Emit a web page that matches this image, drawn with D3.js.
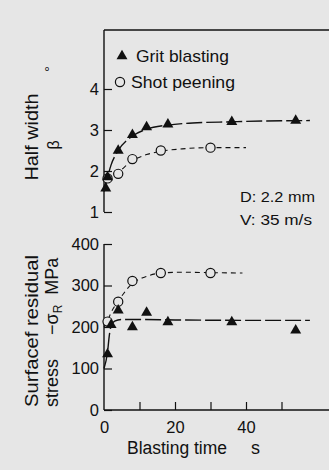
<!DOCTYPE html>
<html>
<head>
<meta charset="utf-8">
<script src="https://cdn.jsdelivr.net/npm/d3@7"></script>
<style>
  html, body { margin: 0; padding: 0; background: #e6e6e6; }
  svg { display: block; font-family: "Liberation Sans", Arial, sans-serif; }
</style>
</head>
<body>
<div id="chart"></div>
<script>
// measured points, blasting time in s
const gritTime = [0.5, 1, 4, 8, 12, 18, 36, 54];
const gritHalf = [1.58, 1.85, 2.5, 2.88, 3.07, 3.14, 3.2, 3.23];
const shotTime = [1, 4, 8, 16, 30];
const shotHalf = [1.82, 1.93, 2.29, 2.5, 2.57];

const gritStressTime = [1, 2, 4, 8, 12, 18, 36, 54];
const gritStress = [135, 205, 240, 200, 235, 212, 212, 192];
const shotStressTime = [1, 4, 8, 16, 30];
const shotStress = [213, 261, 311, 330, 330];

// fitted curves
const gritHalfFit = [[0, 1.5], [1, 1.85], [2, 2.15], [4, 2.5], [8, 2.85], [12, 3.02], [18, 3.12], [25, 3.17], [36, 3.2], [45, 3.22], [58, 3.23]];
const shotHalfFit = [[0, 1.6], [1, 1.8], [4, 1.97], [8, 2.25], [12, 2.4], [16, 2.48], [22, 2.54], [30, 2.57], [40, 2.57]];
const gritStressFit = [[0, 100], [1, 140], [1.5, 180], [2, 203], [3, 214], [5, 218], [10, 218], [20, 217], [40, 216], [58, 216]];
const shotStressFit = [[0, 200], [1, 215], [2, 235], [4, 262], [8, 305], [12, 322], [16, 330], [22, 332], [30, 331], [39, 330]];

const xTicks = [0, 10, 20, 30, 40, 50];
const xLabels = [0, 20, 40];
const halfTicks = [1, 2, 3, 4];
const stressTicks = [0, 100, 200, 300, 400];

const width = 329, height = 470;
const svg = d3.select('#chart').append('svg')
  .attr('width', width)
  .attr('height', height);

svg.append('rect').attr('width', width).attr('height', height).attr('fill', '#e6e6e6');

const x = d3.scaleLinear().domain([0, 60]).range([104, 317]);
const yTop = d3.scaleLinear().domain([1, 4]).range([212, 89]);
const yBot = d3.scaleLinear().domain([0, 400]).range([410, 244]);

// frame lines
svg.append('line').attr('x1', 104).attr('x2', 104).attr('y1', 30).attr('y2', yTop(1))
  .attr('stroke', '#111').attr('stroke-width', 1.4);
svg.append('line').attr('x1', 104).attr('x2', width).attr('y1', 30).attr('y2', 30)
  .attr('stroke', '#111').attr('stroke-width', 1.4);
svg.append('line').attr('x1', 104).attr('x2', 104).attr('y1', yBot(400)).attr('y2', yBot(0))
  .attr('stroke', '#111').attr('stroke-width', 1.4);
svg.append('line').attr('x1', 104).attr('x2', width).attr('y1', yBot(0)).attr('y2', yBot(0))
  .attr('stroke', '#111').attr('stroke-width', 1.4);

function styleAxis(g) {
  g.select('.domain').remove();
  g.selectAll('.tick line').attr('stroke', '#111').attr('stroke-width', 1.2);
  g.selectAll('.tick text').attr('fill', '#111').style('font-size', '16.5px')
    .style('font-family', '"Liberation Sans", Arial, sans-serif');
}

svg.append('g').attr('transform', 'translate(104,0)')
  .call(d3.axisLeft(yTop).tickValues(halfTicks).tickFormat(d3.format('d')).tickSizeInner(-8).tickPadding(5))
  .call(styleAxis);

svg.append('g').attr('transform', 'translate(104,0)')
  .call(d3.axisLeft(yBot).tickValues(stressTicks).tickFormat(d3.format('d')).tickSizeInner(-8).tickPadding(5))
  .call(styleAxis);

svg.append('g').attr('transform', `translate(0,${yBot(0)})`)
  .call(d3.axisBottom(x).tickValues(xTicks).tickSizeInner(-8).tickPadding(6)
    .tickFormat(d => xLabels.includes(d) ? d : ''))
  .call(styleAxis)
  .call(g => g.selectAll('.tick').filter(d => d === 0).select('line').remove())
  .call(g => g.selectAll('.tick text').attr('dy', '1.0em'));

// curves
const lineTop = d3.line().x(d => x(d[0])).y(d => yTop(d[1])).curve(d3.curveMonotoneX);
const lineBot = d3.line().x(d => x(d[0])).y(d => yBot(d[1])).curve(d3.curveMonotoneX);

svg.append('path').attr('d', lineTop(gritHalfFit)).attr('fill', 'none')
  .attr('stroke', '#111').attr('stroke-width', 1.4).attr('stroke-dasharray', '16,4');
svg.append('path').attr('d', lineTop(shotHalfFit)).attr('fill', 'none')
  .attr('stroke', '#111').attr('stroke-width', 1.1).attr('stroke-dasharray', '5,4');
svg.append('path').attr('d', lineBot(gritStressFit)).attr('fill', 'none')
  .attr('stroke', '#111').attr('stroke-width', 1.4).attr('stroke-dasharray', '16,4');
svg.append('path').attr('d', lineBot(shotStressFit)).attr('fill', 'none')
  .attr('stroke', '#111').attr('stroke-width', 1.1).attr('stroke-dasharray', '5,4');

const tri = d3.symbol().type(d3.symbolTriangle).size(52);

function drawPoints(tArr, vArr, y, kind) {
  const pts = tArr.map((t, i) => ({ t, v: vArr[i] }));
  const g = svg.append('g');
  if (kind === 'tri') {
    g.selectAll('path').data(pts).enter().append('path')
      .attr('d', tri)
      .attr('transform', d => `translate(${x(d.t)},${y(d.v)})`)
      .attr('fill', '#111');
  } else {
    g.selectAll('circle').data(pts).enter().append('circle')
      .attr('cx', d => x(d.t)).attr('cy', d => y(d.v)).attr('r', 4.6)
      .attr('fill', '#e6e6e6').attr('stroke', '#111').attr('stroke-width', 1.2);
  }
}

drawPoints(shotTime, shotHalf, yTop, 'circle');
drawPoints(gritTime, gritHalf, yTop, 'tri');
drawPoints(shotStressTime, shotStress, yBot, 'circle');
drawPoints(gritStressTime, gritStress, yBot, 'tri');

// legend
svg.append('path').attr('d', tri).attr('transform', 'translate(122,56)').attr('fill', '#111');
svg.append('text').attr('x', 136).attr('y', 62).text('Grit blasting')
  .attr('textLength', 93).attr('lengthAdjust', 'spacingAndGlyphs')
  .style('font-size', '17px').attr('fill', '#111');
svg.append('circle').attr('cx', 120).attr('cy', 82).attr('r', 4.6)
  .attr('fill', '#e6e6e6').attr('stroke', '#111').attr('stroke-width', 1.2);
svg.append('text').attr('x', 131).attr('y', 88).text('Shot peening')
  .attr('textLength', 104).attr('lengthAdjust', 'spacingAndGlyphs')
  .style('font-size', '17px').attr('fill', '#111');

// condition note
svg.append('text').attr('x', 240).attr('y', 202).text('D: 2.2 mm')
  .attr('textLength', 75).attr('lengthAdjust', 'spacingAndGlyphs')
  .style('font-size', '15.5px').attr('fill', '#111');
svg.append('text').attr('x', 240).attr('y', 225).text('V: 35 m/s')
  .attr('textLength', 72).attr('lengthAdjust', 'spacingAndGlyphs')
  .style('font-size', '15.5px').attr('fill', '#111');

// axis titles
svg.append('text').attr('transform', 'translate(38,137) rotate(-90)')
  .attr('text-anchor', 'middle').text('Half width')
  .attr('textLength', 87).attr('lengthAdjust', 'spacingAndGlyphs')
  .style('font-size', '18px').attr('fill', '#111');
svg.append('text').attr('transform', 'translate(59,145) rotate(-90)')
  .attr('text-anchor', 'middle').text('β')
  .style('font-size', '16px').attr('fill', '#111');
svg.append('text').attr('transform', 'translate(55,69) rotate(-90)')
  .attr('text-anchor', 'middle').text('°')
  .style('font-size', '15px').attr('fill', '#111');

svg.append('text').attr('transform', 'translate(38,407) rotate(-90)')
  .attr('text-anchor', 'start').text('Surfacef residual')
  .attr('textLength', 152).attr('lengthAdjust', 'spacingAndGlyphs')
  .style('font-size', '18px').attr('fill', '#111');
const st = svg.append('text').attr('transform', 'translate(58,407) rotate(-90)')
  .attr('text-anchor', 'start').style('font-size', '18px').attr('fill', '#111');
st.append('tspan').text('stress');
st.append('tspan').attr('dx', 24).text('−σ');
st.append('tspan').attr('dy', 4).style('font-size', '12px').text('R');
st.append('tspan').attr('dy', -4).attr('dx', 10).text('MPa');

const xl = svg.append('text').attr('x', 127).attr('y', 454)
  .style('font-size', '18px').attr('fill', '#111');
xl.append('tspan').text('Blasting time').attr('textLength', 100).attr('lengthAdjust', 'spacingAndGlyphs');
xl.append('tspan').attr('x', 251).text('s');
</script>
</body>
</html>
